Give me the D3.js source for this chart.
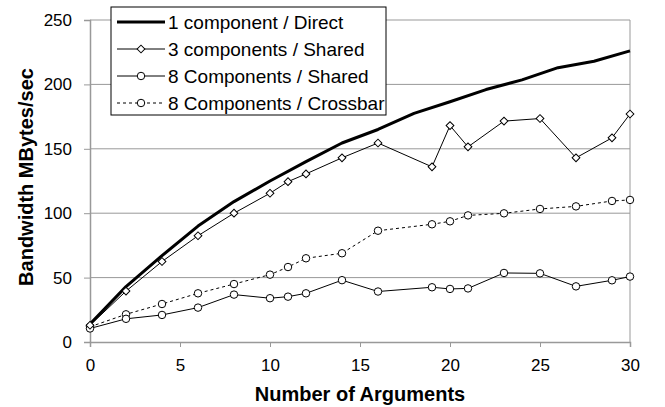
<!DOCTYPE html>
<html>
<head>
<meta charset="utf-8">
<script src="https://cdn.jsdelivr.net/npm/d3@7"></script>
<style>
  body { margin: 0; background: #fff; }
  svg { display: block; font-family: "Liberation Sans", Arial, sans-serif; }
</style>
</head>
<body>
<svg id="chart"></svg>
<script>
// values
const directArgs = [0, 2, 4, 6, 8, 10, 12, 14, 16, 18, 20, 22, 24, 26, 28, 30];
const directBw   = [14, 43, 67, 90, 109, 125, 140, 154.5, 165, 177.5, 186.5, 196, 203.5, 213, 218, 226];

const shared3Args = [0, 2, 4, 6, 8, 10, 11, 12, 14, 16, 19, 20, 21, 23, 25, 27, 29, 30];
const shared3Bw   = [13, 39.5, 62.5, 82.5, 100, 115.5, 124.5, 130.5, 143, 154.5, 136, 168, 151.5, 171.5, 173.5, 143, 158.5, 177];

const shared8Args = [0, 2, 4, 6, 8, 10, 11, 12, 14, 16, 19, 20, 21, 23, 25, 27, 29, 30];
const shared8Bw   = [10.5, 18, 21, 26.7, 36.8, 34, 35.2, 37.8, 48, 39.2, 42.5, 41.2, 41.6, 53.6, 53.3, 43.2, 47.9, 50.8];

const crossArgs = [0, 2, 4, 6, 8, 10, 11, 12, 14, 16, 19, 20, 21, 23, 25, 27, 29, 30];
const crossBw   = [11.8, 21.5, 29.5, 37.8, 45, 52.3, 58.2, 65, 68.9, 86.4, 91.4, 93.7, 98.3, 99.9, 103.3, 105.3, 109.5, 110.3];

const xTicks = [0, 5, 10, 15, 20, 25, 30];
const yTicks = [0, 50, 100, 150, 200, 250];

const seriesNames = ["1 component / Direct", "3 components / Shared", "8 Components / Shared", "8 Components / Crossbar"];

const W = 665, H = 407;
const margin = { top: 20, right: 35, bottom: 65, left: 90 };
const width = W - margin.left - margin.right;
const height = H - margin.top - margin.bottom;

const svg = d3.select("#chart").attr("width", W).attr("height", H);
const g = svg.append("g").attr("transform", `translate(${margin.left},${margin.top})`);

const x = d3.scaleLinear().domain([0, 30]).range([0, width]);
const y = d3.scaleLinear().domain([0, 250]).range([height, 0]);

const gridColor = "#999";

// horizontal gridlines
g.selectAll("line.grid")
    .data(yTicks.slice(1))
    .enter().append("line")
    .attr("class", "grid")
    .attr("x1", 0).attr("x2", width)
    .attr("y1", d => y(d)).attr("y2", d => y(d))
    .attr("stroke", gridColor).attr("stroke-width", 1);

// right border
g.append("line")
    .attr("x1", width).attr("x2", width)
    .attr("y1", 0).attr("y2", height)
    .attr("stroke", gridColor);

// axes
const yAxis = g.append("g")
    .call(d3.axisLeft(y).tickValues(yTicks).tickSize(6).tickPadding(12));
const xAxis = g.append("g")
    .attr("transform", `translate(0,${height})`)
    .call(d3.axisBottom(x).tickValues(xTicks).tickSize(5).tickPadding(12));

[xAxis, yAxis].forEach(a => {
    a.select(".domain").attr("stroke", gridColor).attr("stroke-width", 1.5);
    a.selectAll(".tick line").attr("stroke", gridColor);
    a.selectAll(".tick text")
        .attr("fill", "#000")
        .style("font-size", "17px")
        .style("font-family", "'Liberation Sans', Arial, sans-serif");
});

// series
const line = d3.line().x(d => x(d[0])).y(d => y(d[1]));
const pairs = (xs, ys) => xs.map((v, i) => [v, ys[i]]);

const direct = pairs(directArgs, directBw);
const shared3 = pairs(shared3Args, shared3Bw);
const shared8 = pairs(shared8Args, shared8Bw);
const cross = pairs(crossArgs, crossBw);

g.append("path").datum(cross)
    .attr("d", line).attr("fill", "none")
    .attr("stroke", "#000").attr("stroke-width", 1).attr("stroke-dasharray", "3,3");
g.append("path").datum(shared8)
    .attr("d", line).attr("fill", "none")
    .attr("stroke", "#000").attr("stroke-width", 1);
g.append("path").datum(shared3)
    .attr("d", line).attr("fill", "none")
    .attr("stroke", "#000").attr("stroke-width", 1);
g.append("path").datum(direct)
    .attr("d", line).attr("fill", "none")
    .attr("stroke", "#000").attr("stroke-width", 3).attr("stroke-linejoin", "round");

const circle = d3.symbol().type(d3.symbolCircle).size(44);
const square = d3.symbol().type(d3.symbolSquare).size(30);

// diamonds are squares turned 45 degrees
function markers(data, sym, rot) {
    g.append("g").selectAll("path")
        .data(data)
        .enter().append("path")
        .attr("transform", d => `translate(${x(d[0])},${y(d[1])}) rotate(${rot})`)
        .attr("d", sym)
        .attr("fill", "#fff")
        .attr("stroke", "#000")
        .attr("stroke-width", 1);
}
markers(cross, circle, 0);
markers(shared8, circle, 0);
markers(shared3, square, 45);

// legend
const legend = svg.append("g").attr("transform", "translate(111,7)");
legend.append("rect")
    .attr("width", 275).attr("height", 108)
    .attr("fill", "#fff").attr("stroke", "#000").attr("stroke-width", 1);

const rowY = i => 15 + i * 27;
const legendStyles = [
    { w: 3, dash: null, sym: null, rot: 0 },
    { w: 1, dash: null, sym: square, rot: 45 },
    { w: 1, dash: null, sym: circle, rot: 0 },
    { w: 1, dash: "3,3", sym: circle, rot: 0 }
];
seriesNames.forEach((name, i) => {
    const st = legendStyles[i];
    const row = legend.append("g").attr("transform", `translate(0,${rowY(i)})`);
    row.append("line")
        .attr("x1", 6).attr("x2", 54)
        .attr("stroke", "#000").attr("stroke-width", st.w)
        .attr("stroke-dasharray", st.dash);
    if (st.sym) {
        row.append("path").attr("transform", `translate(30,0) rotate(${st.rot})`)
            .attr("d", st.sym).attr("fill", "#fff").attr("stroke", "#000");
    }
    row.append("text")
        .attr("x", 57).attr("dy", "0.36em")
        .style("font-size", "19px")
        .text(name);
});

// axis titles
svg.append("text")
    .attr("x", margin.left + width / 2)
    .attr("y", 401)
    .attr("text-anchor", "middle")
    .style("font-size", "20px").style("font-weight", "bold")
    .text("Number of Arguments");

svg.append("text")
    .attr("transform", `translate(33,${margin.top + height / 2 - 4}) rotate(-90)`)
    .attr("text-anchor", "middle")
    .style("font-size", "20px").style("font-weight", "bold")
    .text("Bandwidth MBytes/sec");
</script>
</body>
</html>
